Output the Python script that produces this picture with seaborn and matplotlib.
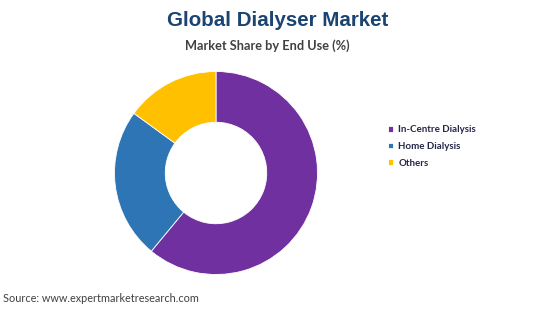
import matplotlib
matplotlib.use("Agg")
import matplotlib.pyplot as plt
import seaborn as sns

categories = ["In-Centre Dialysis", "Home Dialysis", "Others"]
shares = [61, 24, 15]
colors = ["#7030A0", "#2E75B6", "#FFC000"]
title = "Global Dialyser Market"
subtitle = "Market Share by End Use (%)"
source = "Source: www.expertmarketresearch.com"

sns.set_theme(style="white")
plt.rcParams["font.family"] = ["Lato", "DejaVu Sans"]

fig = plt.figure(figsize=(5.5, 3.09), dpi=100)
fig.patch.set_facecolor("white")

ax = fig.add_axes([114.5 / 550, 34.5 / 309, 203 / 550, 203 / 309])
wedges, _ = ax.pie(shares, colors=colors, startangle=90, counterclock=False,
                   radius=1.0,
                   wedgeprops=dict(width=0.5, edgecolor="white", linewidth=0.6))
ax.set_xlim(-1, 1)
ax.set_ylim(-1, 1)
ax.set_aspect("equal")
ax.axis("off")

leg = fig.legend(wedges, categories, loc="upper left",
                 bbox_to_anchor=(388 / 550, 1 - 125.5 / 309),
                 frameon=False, fontsize=7.0, handlelength=0.5,
                 handleheight=0.5, handletextpad=0.55, labelspacing=0.78,
                 borderaxespad=0, borderpad=0)
for t in leg.get_texts():
    t.set_color("#26264A")
    t.set_fontweight("bold")

fig.text(277.5 / 550, 1 - 20 / 309, title, ha="center", va="center",
         fontsize=14.8, fontweight="bold", color="#1B4473",
         family=["Liberation Sans", "DejaVu Sans"])
fig.text(267.5 / 550, 1 - 46 / 309, subtitle, ha="center", va="center",
         fontsize=9.2, fontweight="bold", color="#404040")
fig.text(3 / 550, 1 - 298 / 309, source, ha="left", va="center",
         fontsize=7.8, color="#404040")

fig.savefig("out.png", dpi=100, facecolor="white")
